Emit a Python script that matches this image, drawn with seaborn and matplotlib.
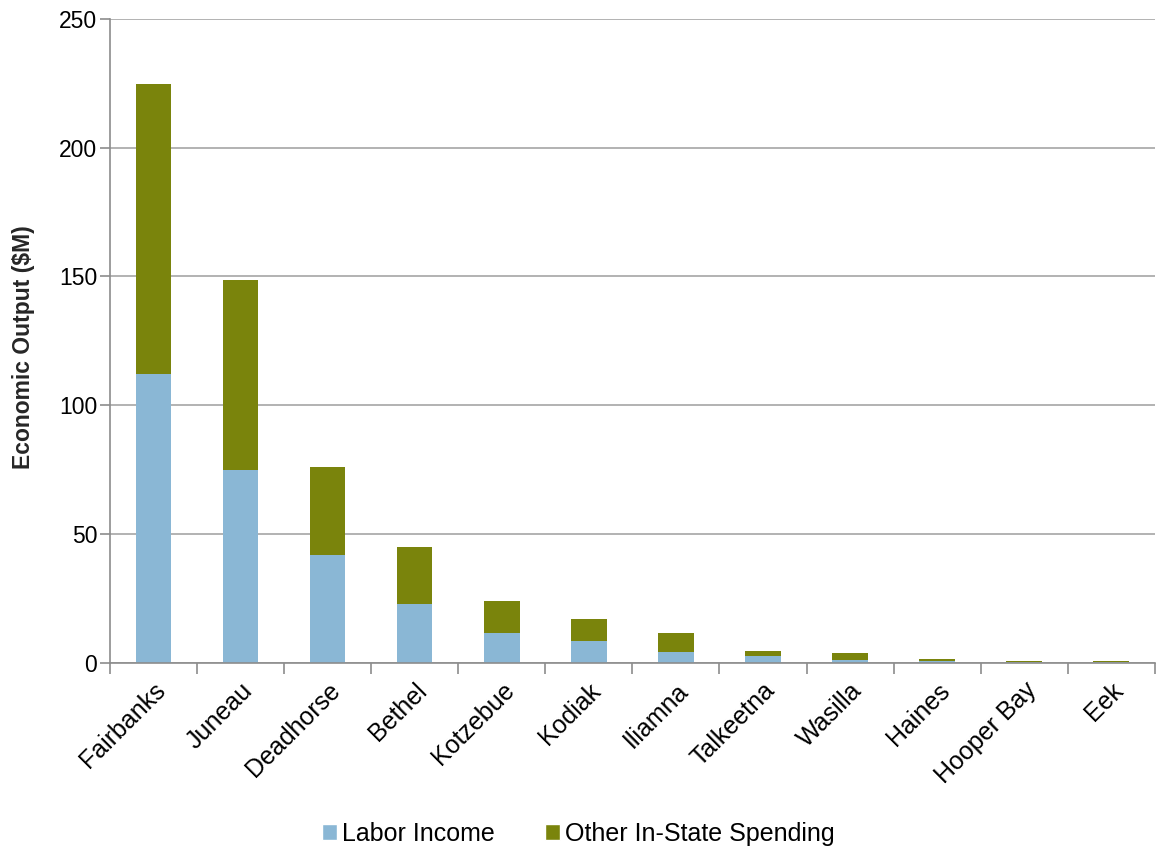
import numpy as np
import pandas as pd
import matplotlib
matplotlib.use("Agg")
import matplotlib.pyplot as plt
import seaborn as sns
from matplotlib.patches import Patch

# --- Data (values in $M) ---
communities = ["Fairbanks", "Juneau", "Deadhorse", "Bethel", "Kotzebue", "Kodiak",
               "Iliamna", "Talkeetna", "Wasilla", "Haines", "Hooper Bay", "Eek"]
labor_income = [112.2, 74.9, 41.9, 22.9, 11.6, 8.5, 4.2, 2.6, 1.2, 0.7, 0.2, 0.2]
other_spending = [112.6, 73.8, 34.2, 22.1, 12.5, 8.4, 7.6, 2.1, 2.6, 0.9, 0.7, 0.6]

blue = "#8AB7D5"
olive = "#7A840C"

df = pd.DataFrame({
    "Community": communities,
    "Labor Income": labor_income,
    "Other": other_spending,
})
df["Total"] = df["Labor Income"] + df["Other"]

sns.set_style("white")
plt.rcParams["font.family"] = ["Liberation Sans", "DejaVu Sans"]
plt.rcParams["text.color"] = "black"

fig, ax = plt.subplots(figsize=(11.56, 8.5), dpi=100)
fig.subplots_adjust(left=0.095, right=0.999, top=0.978, bottom=0.22)

# stacked bars: total first (olive), labor on top (blue)
sns.barplot(data=df, x="Community", y="Total", color=olive, width=0.41,
            saturation=1, linewidth=0, ax=ax)
sns.barplot(data=df, x="Community", y="Labor Income", color=blue, width=0.41,
            saturation=1, linewidth=0, ax=ax)

ax.set_ylim(0, 250)
ax.set_xlim(-0.5, len(communities) - 0.5)
ax.set_yticks(range(0, 251, 50))
ax.yaxis.grid(True, color="#A6A6A6", linewidth=1.2)
ax.set_axisbelow(True)

ax.set_xlabel("")
ax.set_ylabel("Economic Output ($M)", fontsize=16.5, fontweight="bold")
ax.yaxis.set_label_coords(-0.072, 0.49)
ax.tick_params(axis="y", labelsize=16.5, length=7, width=1.2, color="#8C8C8C",
               direction="out", left=True, pad=2, labelcolor="black")
ax.tick_params(axis="x", which="major", labelsize=18, length=0, pad=11, labelcolor="black")
plt.setp(ax.get_xticklabels(), rotation=45, ha="right", rotation_mode="anchor")

# tick marks between categories
ax.set_xticks(np.arange(-0.5, len(communities), 1.0), minor=True)
ax.tick_params(axis="x", which="minor", length=8, color="#8C8C8C", width=1.2,
               direction="out", bottom=True)

for side in ["top", "right"]:
    ax.spines[side].set_visible(False)
for side in ["left", "bottom"]:
    ax.spines[side].set_color("#8C8C8C")
    ax.spines[side].set_linewidth(1.2)

handles = [Patch(facecolor=blue, label="Labor Income"),
           Patch(facecolor=olive, label="Other In-State Spending")]
fig.legend(handles=handles, loc="lower center", bbox_to_anchor=(0.5, -0.022),
           ncol=2, frameon=False, fontsize=18, handlelength=0.6, handleheight=0.6,
           handletextpad=0.2, columnspacing=2.0)

fig.savefig("out.png", dpi=100)
